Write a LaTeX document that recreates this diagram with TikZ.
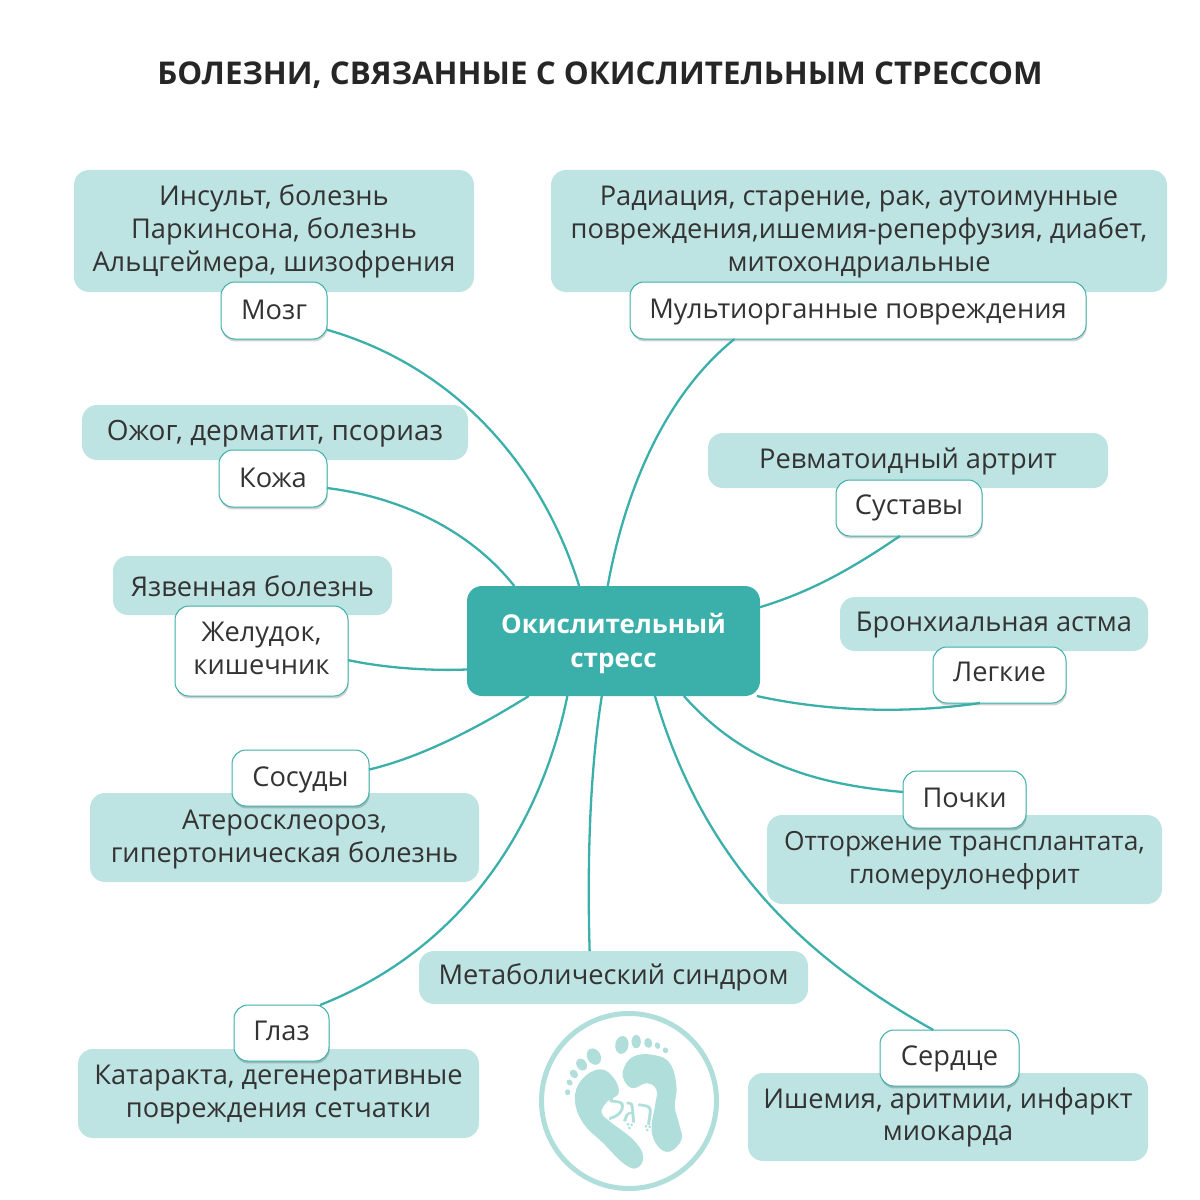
\documentclass[tikz,border=0pt]{standalone}
\usepackage{fontspec}
\setmainfont{Open Sans}
\newfontfamily\hebfont[Script=Hebrew]{Liberation Sans}
\TeXXeTstate=1
\usetikzlibrary{shadows}
\definecolor{pale}{HTML}{BDE4E2}
\definecolor{teal}{HTML}{3BAFA9}
\definecolor{foot}{HTML}{AFDEDB}
\definecolor{ink}{HTML}{333333}

\begin{document}
\begin{tikzpicture}[
    x=0.1mm, y=-0.1mm,
    font=\fontsize{7.75pt}{9.35pt}\selectfont, text=ink,
    lift/.style={text height=#1,text depth=1.6pt},
    lift/.default=7pt,
    info/.style={fill=pale,rounded corners=1.5mm,align=center,inner sep=0pt,outer sep=0pt},
    organ/.style={draw=teal,fill=white,line width=0.1mm,rounded corners=1.4mm,align=center,inner sep=0pt,outer sep=0pt,
        drop shadow={shadow xshift=0.2pt,shadow yshift=-0.7pt,opacity=0.18,fill=black}},
    hub/.style={fill=teal,rounded corners=1.5mm,align=center,inner sep=0pt,outer sep=0pt,text=white,text height=16.64pt,text depth=1.36pt,font=\fontsize{7.4pt}{9.64pt}\selectfont\bfseries},
    title/.style={font=\fontsize{8.92pt}{10pt}\selectfont\bfseries,text=black!85},
    link/.style={draw=teal,line width=0.23mm}
]
\path[use as bounding box] (0,0) rectangle (1200,1200);

\node[title] (heading) at (600,75) {БОЛЕЗНИ, СВЯЗАННЫЕ С ОКИСЛИТЕЛЬНЫМ СТРЕССОМ};
\node[hub,minimum width=29.3mm,minimum height=11mm] (stress) at (613.5,641) {Окислительный\\стресс};

% pale boxes first, the white ones lie on top of them
\node[info,lift=24.6pt,minimum width=40mm,minimum height=12.2mm] (braintext) at (274,231) {Инсульт, болезнь\\Паркинсона, болезнь\\Альцгеймера, шизофрения};
\node[info,lift=24.6pt,minimum width=61.6mm,minimum height=12.2mm] (multitext) at (859,231) {Радиация, старение, рак, аутоимунные\\повреждения,ишемия-реперфузия, диабет,\\митохондриальные};
\node[info,lift=6.4pt,minimum width=38.6mm,minimum height=5.5mm,font=\fontsize{7.95pt}{9.35pt}\selectfont] (skintext) at (275,432.5) {Ожог, дерматит, псориаз};
\node[info,lift=6.4pt,minimum width=40mm,minimum height=5.5mm] (jointtext) at (908,460.5) {Ревматоидный артрит};
\node[info,lift=7.6pt,minimum width=27.9mm,minimum height=5.9mm] (stomachtext) at (252.5,585.5) {Язвенная болезнь};
\node[info,lift=5.9pt,minimum width=30.8mm,minimum height=5.4mm] (lungtext) at (994,624) {Бронхиальная астма};
\node[info,lift=15.8pt,minimum width=38.9mm,minimum height=8.9mm] (vesseltext) at (284.5,837.5) {Атеросклеороз,\\гипертоническая болезнь};
\node[info,lift=15.2pt,minimum width=39.5mm,minimum height=8.9mm,font=\fontsize{7.5pt}{9.35pt}\selectfont] (kidneytext) at (964.5,859.5) {Отторжение трансплантата,\\гломерулонефрит};
\node[info,lift=5.3pt,minimum width=38.9mm,minimum height=5.3mm] (metabolic) at (613.5,977.5) {Метаболический синдром};
\node[info,lift=15.2pt,minimum width=40.1mm,minimum height=8.9mm] (eyetext) at (278.5,1093.5) {Катаракта, дегенеративные\\повреждения сетчатки};
\node[info,lift=15.2pt,minimum width=40mm,minimum height=8.8mm] (hearttext) at (948,1117) {Ишемия, аритмии, инфаркт\\миокарда};

\node[organ,lift,minimum width=10.6mm,minimum height=5.7mm] (brain) at (274,310.5) {Мозг};
\node[organ,lift=6.4pt,minimum width=45.6mm,minimum height=5.7mm] (multi) at (858,310.5) {Мультиорганные повреждения};
\node[organ,lift,minimum width=10.8mm,minimum height=5.7mm] (skin) at (273,478.5) {Кожа};
\node[organ,lift=5.3pt,minimum width=14.6mm,minimum height=5.6mm] (joint) at (909,508) {Суставы};
\node[organ,lift=15pt,minimum width=17.3mm,minimum height=9mm] (stomach) at (261.5,651) {Желудок,\\кишечник};
\node[organ,lift=5.3pt,minimum width=13.3mm,minimum height=5.6mm] (lung) at (999.5,675) {Легкие};
\node[organ,lift=6.4pt,minimum width=13.7mm,minimum height=5.6mm] (vessel) at (300.5,778) {Сосуды};
\node[organ,lift=5.9pt,minimum width=12.3mm,minimum height=5.7mm] (kidney) at (964.5,799.5) {Почки};
\node[organ,lift=5.9pt,minimum width=9.5mm,minimum height=5.6mm] (eye) at (281.5,1033) {Глаз};
\node[organ,lift=5.9pt,minimum width=13.9mm,minimum height=5.6mm] (heart) at (949.5,1058) {Сердце};

\foreach \a/\b/\px/\py/\qx/\qy in {
    brain.-20/stress.122/450/365/540/460,
    skin.-10/stress.151/400/497/470/530,
    stomach.-6/stress.191/385/668/430/671,
    vessel.7/stress.213/430/755/490/720,
    eye.36/stress.230/460/950/540/830,
    metabolic.132/stress.258/587/860/590/770,
    heart.120/stress.-53/790/950/700/850,
    kidney.173/stress.-38/820/785/745/765,
    lung.235/stress.-21/900/715/820/710,
    joint.252/stress.13/850/570/810/592,
    multi.193/stress.96/665/395/625/490}
    \draw[link] (\a) .. controls (\px,\py) and (\qx,\qy) .. (\b);

% logo, traced in the 3x crop of its square
\node[draw=foot,line width=0.5mm,circle,minimum size=17.5mm,inner sep=0pt] (logo) at (629,1101) {};
\begin{scope}[shift={(520,1000)},x=0.0333mm,y=-0.0333mm]
\fill[foot] plot[smooth cycle,tension=0.7] coordinates {(240,208) (282,235) (296,280) (262,305) (245,338) (270,365) (340,420) (370,470) (350,505) (310,490) (250,430) (190,370) (165,300) (185,240)};
\fill[foot] plot[smooth cycle,tension=0.7] coordinates {(310,210) (340,170) (400,165) (450,190) (470,260) (465,320) (480,380) (485,420) (450,455) (415,440) (395,390) (405,320) (410,270) (380,250) (340,265) (315,245)};
\foreach \x/\y/\rx/\ry/\r in {222/170/20/26/30,185/194/15/19/35,162/222/11/14/40,149/248/8/10/45,143/277/8/9/0,
    306/135/20/27/-10,349/125/14/20/0,385/129/12/15/10,413/137/8/10/20,437/151/8/9/30}
    \fill[foot,shift={(\x,\y)},rotate=\r] (0,0) ellipse [x radius=\rx,y radius=\ry];
\node[rotate=-8,text=foot,font=\fontsize{9.5pt}{10pt}\hebfont] (word) at (333,338) {\beginR רֶגֶל\endR};
\end{scope}
\end{tikzpicture}
\end{document}
